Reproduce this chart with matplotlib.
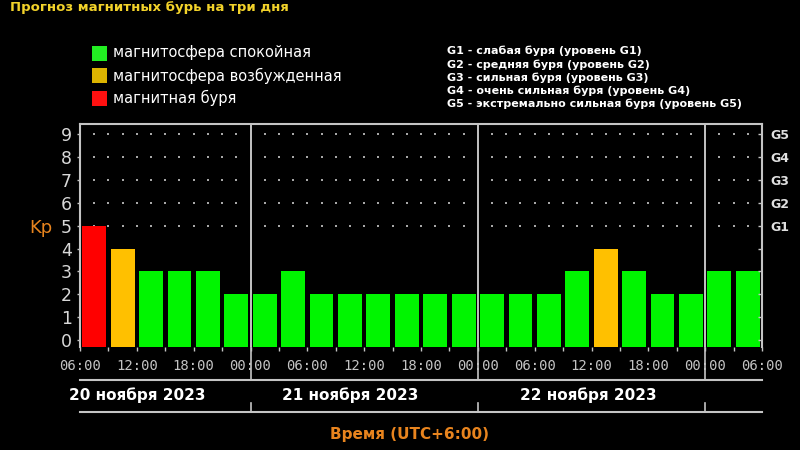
import matplotlib
matplotlib.use("Agg")
import matplotlib.pyplot as plt
import matplotlib.transforms as mtransforms
from matplotlib.patches import Rectangle

# ---------------- data ----------------
kp_values = [5, 4, 3, 3, 3, 2,
             2, 3, 2, 2, 2, 2, 2, 2,
             2, 2, 2, 3, 4, 3, 2, 2,
             3, 3]
time_labels = ["06:00", "12:00", "18:00", "00:00", "06:00", "12:00", "18:00",
               "00:00", "06:00", "12:00", "18:00", "00:00", "06:00"]
day_labels = ["20 ноября 2023", "21 ноября 2023", "22 ноября 2023"]
day_label_pos = [2.0, 9.5, 17.9]
day_boundaries = [6, 14, 22]
g_labels = ["G1", "G2", "G3", "G4", "G5"]
g_levels = [5, 6, 7, 8, 9]
legend_labels = ["магнитосфера спокойная", "магнитосфера возбужденная", "магнитная буря"]
g_legend = ["G1 - слабая буря (уровень G1)",
            "G2 - средняя буря (уровень G2)",
            "G3 - сильная буря (уровень G3)",
            "G4 - очень сильная буря (уровень G4)",
            "G5 - экстремально сильная буря (уровень G5)"]
title = "Прогноз магнитных бурь на три дня"
xlabel = "Время (UTC+6:00)"

GREEN = "#00f500"
YELLOW = "#ffc000"
RED = "#ff0000"
LEG_COLORS = ["#22ee22", "#dcb400", "#ff1010"]
GRAY = "#c4c4c4"
ORANGE = "#e8841e"

def bar_color(v):
    if v >= 5:
        return RED
    if v >= 4:
        return YELLOW
    return GREEN

W, H = 800, 450
fig = plt.figure(figsize=(8, 4.5), dpi=100, facecolor="black")

# axes position in pixels
x0, x1 = 80, 762
ytop, ybot = 124, 347
ax = fig.add_axes([x0 / W, 1 - ybot / H, (x1 - x0) / W, (ybot - ytop) / H])
ax.set_facecolor("black")
YMIN, YMAX = -0.3, 9.44
ax.set_xlim(0, len(kp_values))
ax.set_ylim(YMIN, YMAX)

# dotted grid at storm levels
dot_x = [i * 0.5 for i in range(1, 2 * len(kp_values))
         if (i * 0.5) not in day_boundaries]
for lvl in g_levels:
    ax.scatter(dot_x, [lvl] * len(dot_x), s=3, color="#a8a8a8", zorder=1,
               linewidths=0, marker="s")

# bars
xs = [i + 0.5 for i in range(len(kp_values))]
ax.bar(xs, [v - YMIN for v in kp_values], bottom=YMIN, width=0.84,
       color=[bar_color(v) for v in kp_values], zorder=3)

# day boundary lines inside the plot
for b in day_boundaries:
    ax.axvline(b, color=GRAY, lw=1.4, zorder=4)

# spines
for s in ["top", "left", "right"]:
    ax.spines[s].set_color(GRAY)
    ax.spines[s].set_linewidth(1.5)
ax.spines["bottom"].set_visible(False)

# x ticks
ax.set_xticks(range(0, len(kp_values) + 1, 2))
ax.set_xticklabels(time_labels, family="DejaVu Sans Mono", fontsize=10, color=GRAY)
ax.set_xticks(range(0, len(kp_values) + 1), minor=True)
ax.tick_params(axis="x", which="both", direction="out", length=3, color=GRAY, width=1, pad=6)

# y ticks (left)
ax.set_yticks(range(0, 10))
ax.set_yticklabels([str(i) for i in range(10)], fontsize=12.5, color="#d8d8d8")
ax.tick_params(axis="y", which="both", direction="out", length=2, color=GRAY, width=1, pad=4)

# right axis (G levels)
ax2 = ax.twinx()
ax2.set_ylim(YMIN, YMAX)
ax2.set_yticks(range(0, 10))
ax2.set_yticklabels([""] * 5 + g_labels, fontsize=9, color="#e0e0e0", fontweight="bold")
ax2.tick_params(axis="y", direction="in", length=3, color=GRAY, width=1, pad=6)
for s in ax2.spines.values():
    s.set_visible(False)

# Kp label
fig.text(41 / W, 1 - 228 / H, "Kp", color=ORANGE, fontsize=13, ha="center", va="center")

# lines below axes
trans = mtransforms.blended_transform_factory(ax.transData, fig.transFigure)
n = len(kp_values)
for ypx in (380, 412):
    fig.add_artist(plt.Line2D([0, n], [1 - ypx / H] * 2, transform=trans, color=GRAY, lw=1.5))
for b in day_boundaries:
    fig.add_artist(plt.Line2D([b, b], [1 - ybot / H, 1 - 380 / H], transform=trans, color=GRAY, lw=1.2))
    fig.add_artist(plt.Line2D([b, b], [1 - 403 / H, 1 - 412 / H], transform=trans, color=GRAY, lw=1.2))

for lbl, pos in zip(day_labels, day_label_pos):
    fig.text(pos, 1 - 395 / H, lbl, transform=trans, ha="center", va="center",
             fontsize=11, fontweight="bold", color="white")

fig.text(410 / W, 1 - 435 / H, xlabel, ha="center", va="center",
         fontsize=11, fontweight="bold", color=ORANGE)

# title
fig.text(10 / W, 1 - 8 / H, title, ha="left", va="center", fontsize=9.5,
         fontweight="bold", color="#f2d22a")

# legend squares
for i, (lbl, col) in enumerate(zip(legend_labels, LEG_COLORS)):
    yc = 53 + i * 22.5
    fig.add_artist(Rectangle((92 / W, 1 - (yc + 7.5) / H), 15 / W, 15 / H,
                             transform=fig.transFigure, facecolor=col, edgecolor="none"))
    fig.text(113 / W, 1 - yc / H, lbl, ha="left", va="center", fontsize=10.5, color="white")

# G legend
for i, lbl in enumerate(g_legend):
    yc = 51 + i * 13.3
    fig.text(447 / W, 1 - yc / H, lbl, ha="left", va="center", fontsize=8,
             fontweight="bold", color="white")

fig.savefig("out.png", dpi=100, facecolor="black")
